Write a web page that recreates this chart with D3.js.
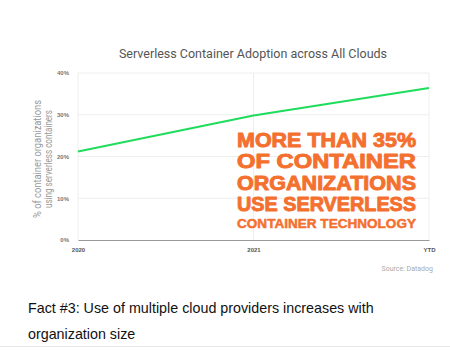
<!DOCTYPE html>
<html><head><meta charset="utf-8">
<script src="https://cdn.jsdelivr.net/npm/d3@7"></script>
<style>body{margin:0;background:#fff}svg{display:block}</style>
</head><body>
<script>
const categories = ["2020", "2021", "YTD"];
const values = [21.2, 29.8, 36.4];
const yTicks = [0, 10, 20, 30, 40];
const calloutLines = ["MORE THAN 35%", "OF CONTAINER", "ORGANIZATIONS", "USE SERVERLESS", "CONTAINER TECHNOLOGY"];

const W = 450, H = 361;
const svg = d3.select("body").append("svg").attr("width", W).attr("height", H);
const m = {l: 78, r: 429, t: 73, b: 240};
const x = d3.scalePoint().domain(categories).range([m.l, m.r]);
const y = d3.scaleLinear().domain([0, 40]).range([m.b, m.t]);

svg.append("text").attr("x", 253).attr("y", 58).attr("text-anchor", "middle")
  .attr("font-family", "Roboto, 'Liberation Sans', sans-serif").attr("font-size", 12.5).attr("fill", "#555")
  .text("Serverless Container Adoption across All Clouds");

// gridlines
svg.append("g").selectAll("line").data(yTicks.filter(d => d > 0)).join("line")
  .attr("x1", m.l).attr("x2", m.r).attr("y1", d => y(d)).attr("y2", d => y(d))
  .attr("stroke", "#eeeeee").attr("stroke-width", 1);
svg.append("g").selectAll("line").data(categories).join("line")
  .attr("x1", d => x(d)).attr("x2", d => x(d)).attr("y1", m.t).attr("y2", m.b)
  .attr("stroke", "#eeeeee").attr("stroke-width", 1);

// y axis
const yAxis = svg.append("g").attr("transform", `translate(${m.l - 6},0)`)
  .call(d3.axisLeft(y).tickValues(yTicks).tickFormat(d => d + "%").tickSize(0));
yAxis.select(".domain").remove();
yAxis.selectAll("text").attr("font-family", "'Liberation Sans', Arial, sans-serif")
  .attr("font-size", 6).attr("font-weight", "bold").attr("fill", "#777");

// x axis
const xAxis = svg.append("g").attr("transform", `translate(0,${m.b})`)
  .call(d3.axisBottom(x).tickSize(0).tickPadding(8));
xAxis.select(".domain").attr("stroke", "#999").attr("stroke-width", 1);
xAxis.selectAll("text").attr("font-family", "'Liberation Sans', Arial, sans-serif")
  .attr("font-size", 6).attr("font-weight", "bold").attr("fill", "#555");

// y axis title
const yt = svg.append("g").attr("transform", "translate(41,159) rotate(-90)")
  .attr("font-family", "Roboto, 'Liberation Sans', sans-serif")
  .attr("font-size", 11.5).attr("fill", "#9a9a9a");
yt.append("text").attr("x", -59).attr("y", 0).attr("textLength", 118).attr("lengthAdjust", "spacingAndGlyphs")
  .text("% of container organizations");
yt.append("text").attr("x", -49).attr("y", 11).attr("textLength", 98).attr("lengthAdjust", "spacingAndGlyphs")
  .text("using serverless containers");

// line
svg.append("path").datum(values)
  .attr("d", d3.line().x((d, i) => x(categories[i])).y(d => y(d)))
  .attr("fill", "none").attr("stroke", "#1fdc5c").attr("stroke-width", 2);

// callout
const callY = [147, 168, 190, 211, 228];
const callFs = [19.5, 19.5, 19.5, 19.5, 13.5];
svg.append("g").selectAll("text").data(calloutLines).join("text")
  .attr("x", 237).attr("y", (d, i) => callY[i])
  .attr("font-family", "'Liberation Sans', Arial, sans-serif").attr("font-weight", "bold")
  .attr("font-size", (d, i) => callFs[i]).attr("fill", "#f4702f")
  .attr("stroke", "#f4702f").attr("stroke-width", (d, i) => i < 4 ? 0.9 : 0.5).attr("stroke-linejoin", "round")
  .attr("textLength", 179).attr("lengthAdjust", "spacingAndGlyphs")
  .text(d => d);

svg.append("text").attr("x", 433).attr("y", 271).attr("text-anchor", "end")
  .attr("font-family", "Roboto, 'Liberation Sans', sans-serif").attr("font-size", 7).attr("fill", "#aaa")
  .text("Source: Datadog");

svg.append("text").attr("x", 28).attr("y", 313)
  .attr("font-family", "'Liberation Sans', Arial, sans-serif").attr("font-size", 14.3).attr("fill", "#111")
  .text("Fact #3: Use of multiple cloud providers increases with");
svg.append("text").attr("x", 28).attr("y", 339)
  .attr("font-family", "'Liberation Sans', Arial, sans-serif").attr("font-size", 14.3).attr("fill", "#111")
  .text("organization size");

svg.append("line").attr("x1", 0).attr("x2", W).attr("y1", 346.5).attr("y2", 346.5)
  .attr("stroke", "#e8e8e8");
</script>
</body></html>
